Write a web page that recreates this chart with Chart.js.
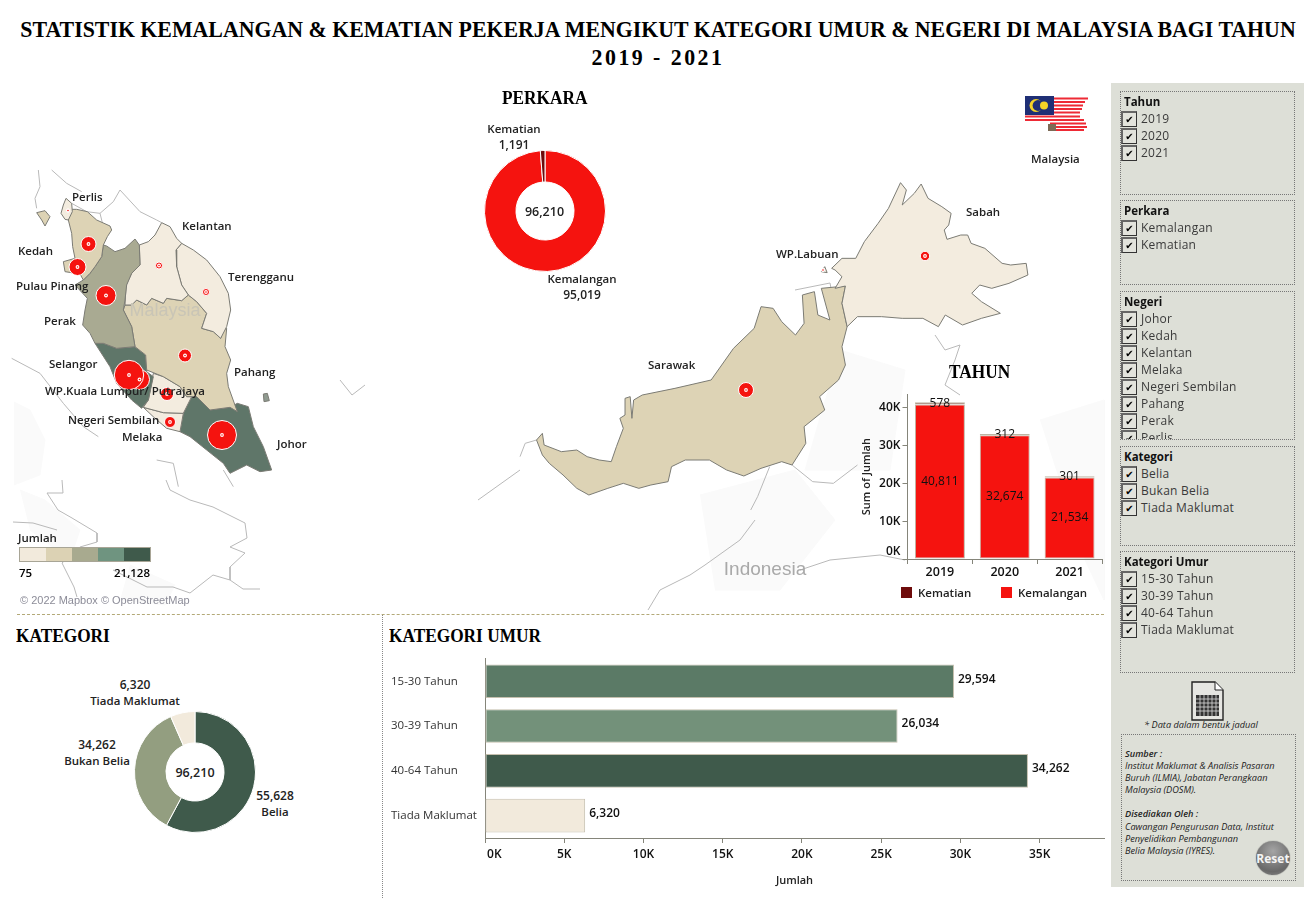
<!DOCTYPE html>
<html><head><meta charset="utf-8">
<script src="https://cdn.jsdelivr.net/npm/chart.js@4/dist/chart.umd.min.js"></script>
<style>
html,body{margin:0;padding:0;background:#fff;width:1316px;height:900px;overflow:hidden;font-family:"Open Sans",sans-serif;color:#111}
.a{position:absolute;white-space:nowrap}
canvas{position:absolute}
.t{font-family:"Liberation Serif",serif;font-weight:700;color:#000;transform-origin:left center;transform:scaleX(.91)}
.tm{font-family:"Liberation Serif",serif;font-weight:700;color:#000;transform:translate(-50%,-50%) scaleX(.95)}
.l{font-weight:600;font-size:11.5px;color:#222;transform:translateY(-50%)}
.box{position:absolute;border:1px dotted #777;box-sizing:border-box;overflow:hidden}
.hd{position:absolute;left:3px;font-weight:700;font-size:11.5px;color:#111;line-height:14px}
.row{position:absolute;left:0;height:17px;width:170px}
.cb{position:absolute;left:0;top:0;width:16px;height:16px;box-sizing:border-box;border:1px solid #333;border-top:2px solid #666;border-left:2px solid #666;font:10px/13px "DejaVu Sans";text-align:center;color:#000;background:#e2e3dc}
.rt{position:absolute;left:20px;top:-1px;font-size:12px;line-height:17px;color:#3a3a3a;letter-spacing:.25px}
.note{font-style:italic;font-size:9.2px;color:#222;line-height:12px}
</style></head><body>
<div class="a tm" style="left:658px;top:30px;font-size:23px">STATISTIK KEMALANGAN &amp; KEMATIAN PEKERJA MENGIKUT KATEGORI UMUR &amp; NEGERI DI MALAYSIA BAGI TAHUN</div>
<div class="a tm" style="left:658px;top:58px;font-size:23px;letter-spacing:2.6px">2019 - 2021</div>

<canvas id="map" width="1110" height="527" style="left:0;top:83px;width:1110px;height:527px"></canvas>
<div class="a" style="left:165px;top:310px;font:18px 'Liberation Sans';color:#c9c5b6;transform:translate(-50%,-50%)">Malaysia</div>
<div class="a" style="left:765px;top:569px;font:19px 'Liberation Sans';color:#a9a9a9;transform:translate(-50%,-50%)">Indonesia</div>
<div id="labels"></div>

<canvas id="perkara" width="122" height="122" style="left:483.5px;top:150px;width:122px;height:122px"></canvas>
<canvas id="tahun" width="250" height="205" style="left:855px;top:385px;width:250px;height:205px"></canvas>
<canvas id="kategori" width="122" height="122" style="left:134px;top:711px;width:122px;height:122px"></canvas>
<canvas id="umur" width="725" height="245" style="left:385px;top:650px;width:725px;height:245px"></canvas>

<div class="a" style="left:17px;top:614px;width:1087px;border-top:1px dashed #b3a978"></div>
<div class="a" style="left:382px;top:615px;height:283px;border-left:1px dotted #888"></div>

<div class="a t" style="left:502px;top:87px;font-size:19px">PERKARA</div>
<div class="a t" style="left:949px;top:361px;font-size:19px">TAHUN</div>
<div class="a t" style="left:16px;top:625px;font-size:19px">KATEGORI</div>
<div class="a t" style="left:389px;top:625px;font-size:19px">KATEGORI UMUR</div>

<div class="a" style="left:19px;top:547px;width:132px;height:15px;display:flex;border:1px solid #a8a596;box-sizing:border-box" id="ramp"></div>
<div class="a l" style="left:18px;top:537px">Jumlah</div>
<div class="a l" style="left:19px;top:572px;color:#000">75</div>
<div class="a l" style="left:150px;top:572px;color:#000;transform:translate(-100%,-50%)">21,128</div>
<div class="a" style="left:20px;top:594px;font:11px/13px 'Liberation Sans';color:#8c8c98">© 2022 Mapbox © OpenStreetMap</div>

<div class="a" style="left:901px;top:587px;width:11px;height:11px;background:#6e0b0b"></div>
<div class="a l" style="left:918px;top:592px">Kematian</div>
<div class="a" style="left:1001px;top:587px;width:11px;height:11px;background:#f5130f"></div>
<div class="a l" style="left:1018px;top:592px">Kemalangan</div>

<svg class="a" style="left:1020px;top:92px" width="74" height="42" viewBox="1020 92 74 42">
 <g stroke-width="2" stroke="#ee2a35" fill="none">
  <path d="M1054 98.5H1088M1054 102H1085M1054 105.5H1083M1054 109H1082M1054 112.5H1080"/>
  <path d="M1025 116.5H1080M1025 120H1084M1050 123.5H1086M1050 127H1087M1056 130H1084"/>
 </g>
 <path d="M1048 124h8v7h-8z" fill="#7d6a55"/>
 <rect x="1025" y="96" width="29" height="19" fill="#1f2f75"/>
 <circle cx="1036" cy="105.5" r="6.5" fill="#f5d327"/><circle cx="1038" cy="105.5" r="5.4" fill="#1f2f75"/>
 <circle cx="1044" cy="105.5" r="4" fill="#f5d327"/>
</svg>

<div class="a" style="left:1111px;top:83px;width:193px;height:804px;background:#dddfd7"></div>
<div id="filters"></div>

<svg class="a" style="left:1190px;top:681px" width="36" height="40" viewBox="0 0 36 40">
 <path d="M2 1h23l8 8v30H2z" fill="#e6e6e2" stroke="#222" stroke-width="1.4"/><path d="M25 1v8h8" fill="#fff" stroke="#222"/>
 <rect x="6" y="14" width="23" height="21" fill="#333"/>
 <path d="M6 18h23M6 22h23M6 26h23M6 30h23M10 14v21M14 14v21M18 14v21M22 14v21M26 14v21" stroke="#ddd" stroke-width=".8"/>
</svg>
<div class="a note" style="left:1201px;top:725px;transform:translate(-50%,-50%)">* Data dalam bentuk jadual</div>
<div class="box" style="left:1121px;top:734px;width:175px;height:147px"></div>
<div class="a note" style="left:1125px;top:748px;line-height:12.1px"><b style="font-weight:600">Sumber :</b><br>Institut Maklumat &amp; Analisis Pasaran<br>Buruh (ILMIA), Jabatan Perangkaan<br>Malaysia (DOSM).<br><br><b style="font-weight:600">Disediakan Oleh :</b><br>Cawangan Pengurusan Data, Institut<br>Penyelidikan Pembangunan<br>Belia Malaysia (IYRES).</div>
<div class="a" style="left:1256px;top:841px;width:34px;height:34px;border-radius:50%;background:radial-gradient(circle at 50% 30%,#a5a5a5,#686868 70%,#8f8f8f);box-shadow:0 0 1px #555"></div>
<div class="a" style="left:1273px;top:858px;font-weight:700;font-size:12px;color:#f4f4f4;transform:translate(-50%,-50%)">Reset</div>

<script>
/* ---------- chart values ---------- */
const perkaraLabels = ['Kemalangan','Kematian'];
const perkaraValues = [95019,1191];
const years = ['2019','2020','2021'];
const kemalanganByYear = [40811,32674,21534];
const kematianByYear = [578,312,301];
const kategoriLabels = ['Belia','Bukan Belia','Tiada Maklumat'];
const kategoriValues = [55628,34262,6320];
const umurLabels = ['15-30 Tahun','30-39 Tahun','40-64 Tahun','Tiada Maklumat'];
const umurValues = [29594,26034,34262,6320];
const umurColors = ['#5b7a66','#73917a','#3f5a4b','#f2eadc'];
const yearTickValues = [0,10000,20000,30000,40000];
const umurTickValues = [0,5000,10000,15000,20000,25000,30000,35000];
const rampColors = ['#f2eadc','#dcd2b4','#a8aa8f','#6f9480','#3f5a4b'];

/* ---------- map outlines, in map units ---------- */
const PEN = p => p.map(([x,y]) => ({x:x/3, y:170+y/3}));
const BOR = p => p.map(([x,y]) => ({x:520+x/2.904, y:180+y/3}));
const PAGE = p => p.map(([x,y]) => ({x, y}));
const C1='#f3ecdf', C2='#ddd3b5', C3='#a9aa92', C4='#5f7669';
const perlis = PEN([[198,85],[215,100],[217,125],[205,150],[195,148],[183,130],[190,105],[198,85]]);
const kedah = PEN([[205,118],[230,118],[262,125],[290,150],[330,168],[335,180],[322,200],[310,225],[305,260],[285,290],[270,310],[250,330],[240,312],[195,305],[190,275],[225,265],[218,230],[215,190],[205,150],[205,118]]);
const langkawi = PEN([[110,128],[135,122],[150,140],[135,168],[125,150],[110,128]]);
const perak = PEN([[320,228],[345,245],[375,235],[405,207],[418,225],[420,285],[395,310],[380,345],[375,390],[370,420],[395,470],[405,530],[350,535],[310,520],[285,520],[270,490],[248,465],[255,420],[262,385],[225,345],[250,330],[270,310],[285,290],[305,260],[310,225],[320,228]]);
const kelantan = PEN([[485,158],[510,170],[530,205],[545,220],[528,240],[530,290],[545,345],[565,375],[545,392],[500,385],[490,400],[455,385],[440,405],[410,390],[395,405],[375,405],[378,345],[395,310],[420,285],[418,225],[445,215],[465,195],[485,158]]);
const terengganu = PEN([[545,220],[580,240],[620,270],[660,320],[685,370],[692,420],[680,470],[662,505],[640,485],[605,475],[620,430],[590,395],[565,375],[545,345],[530,290],[528,240],[545,220]]);
const pahang = PEN([[375,405],[395,405],[410,390],[440,405],[455,385],[490,400],[500,385],[545,392],[565,375],[590,395],[620,430],[605,475],[640,485],[662,505],[668,480],[680,475],[675,530],[692,570],[680,610],[685,650],[712,725],[690,712],[630,720],[590,680],[560,680],[540,650],[490,620],[440,600],[437,555],[405,530],[395,470],[370,420],[375,405]]);
const selangor = PEN([[285,520],[310,520],[350,535],[405,530],[437,555],[440,605],[460,620],[445,690],[425,715],[395,690],[350,640],[330,590],[285,520]]);
const nSembilan = PEN([[460,610],[490,620],[540,650],[560,680],[575,680],[550,730],[490,728],[430,712],[445,690],[460,610]]);
const melaka = PEN([[430,712],[490,728],[550,730],[540,785],[500,775],[465,745],[430,712]]);
const johor = PEN([[575,680],[590,680],[630,720],[690,712],[712,700],[745,710],[760,770],[790,830],[815,900],[780,905],[740,885],[690,910],[670,880],[620,840],[570,800],[540,785],[550,730],[575,680]]);
const tioman = PEN([[790,672],[802,670],[808,692],[792,695],[790,672]]);
const sabah = BOR([[905,265],[935,235],[975,235],[1000,185],[1040,130],[1070,85],[1105,8],[1122,30],[1110,75],[1145,40],[1165,12],[1185,55],[1225,80],[1252,100],[1245,135],[1232,150],[1240,178],[1280,165],[1300,165],[1310,190],[1350,205],[1400,250],[1425,255],[1470,250],[1475,285],[1420,310],[1370,325],[1335,315],[1312,340],[1340,365],[1395,400],[1340,415],[1285,435],[1235,405],[1215,440],[1170,415],[1110,415],[1050,410],[980,410],[950,440],[935,370],[945,318],[915,325],[935,290],[915,270],[905,265]]);
const sarawak = BOR([[48,780],[65,760],[70,795],[120,815],[165,810],[195,830],[230,840],[265,845],[280,800],[300,745],[290,715],[305,705],[305,655],[320,650],[325,715],[330,660],[355,645],[450,625],[555,600],[620,505],[680,445],[700,380],[735,385],[760,425],[800,465],[825,430],[820,345],[855,335],[865,405],[900,420],[875,325],[945,318],[935,370],[950,440],[935,500],[945,555],[925,600],[870,650],[885,690],[825,740],[830,790],[790,855],[760,845],[700,865],[650,888],[600,870],[550,840],[480,840],[440,860],[430,905],[380,915],[345,925],[300,910],[255,925],[200,945],[165,925],[125,885],[85,850],[65,825],[48,780]]);
const labuan = BOR([[875,275],[885,260],[892,278],[875,275]]);
const regions = [[perlis,C1],[kedah,C2],[langkawi,C2],[perak,C3],[kelantan,C1],[terengganu,C1],[pahang,C2],[selangor,C4],[nSembilan,C1],[melaka,C1],[johor,C4],[sabah,C1],[sarawak,C2],[labuan,C1],[tioman,'#8f9a90']];
const terrainPatches = [
 PAGE([[14,402],[30,410],[45,440],[40,475],[14,485]]),
 PAGE([[20,490],[45,500],[80,530],[70,560],[30,530]]),
 PAGE([[130,565],[175,585],[165,605],[120,600]]),
 PAGE([[840,350],[905,370],[890,470],[805,470],[825,400]]),
 PAGE([[700,495],[795,470],[835,520],[780,590],[715,590]]),
 PAGE([[1040,420],[1104,400],[1104,600],[1085,560]])
];
const borderLines = [
 PEN([[215,100],[260,125],[300,130],[340,95],[360,60],[420,125],[470,150],[485,158]]),
 PEN([[115,0],[120,50],[105,85],[110,115]]),
 PEN([[155,0],[200,40],[245,65]]),
 PEN([[300,130],[310,170]]),
 PEN([[35,565],[120,610],[190,700],[250,770],[295,800]]),
 PEN([[470,870],[520,880],[535,950]]),
 PEN([[670,900],[700,950]]),
 PAGE([[62,480],[63,493],[47,493],[58,510],[72,518],[97,533],[97,542],[80,547],[62,563],[74,587],[77,597]]),
 PAGE([[13,522],[33,523],[57,530]]),
 PAGE([[113,570],[147,587],[173,587],[190,593],[213,575],[230,580],[243,589],[260,589]]),
 PAGE([[166,480],[170,490],[190,500],[213,507],[245,523],[247,538],[230,547],[245,553],[230,567],[230,580]]),
 BOR([[790,855],[850,905],[910,910],[980,855]]),
 BOR([[725,860],[690,950],[670,990]]),
 BOR([[48,780],[15,790],[0,830]]),
 PAGE([[648,610],[660,590],[690,575],[705,565],[740,540],[755,520]]),
 PAGE([[800,570],[830,560],[880,555],[905,560]]),
 PAGE([[935,335],[945,350],[960,345],[955,360],[945,385],[960,395]]),
 PAGE([[795,290],[830,283],[835,310]]),
 PAGE([[340,380],[352,395],[365,385]]),
 PAGE([[478,500],[520,470]])
];
const stateBubbles = [
 {x:68,y:210.5,r:1.5},{x:88.5,y:244,r:7.5},{x:77.5,y:267,r:8.5},{x:106,y:295.5,r:10},
 {x:159,y:265.5,r:3.5},{x:206,y:292,r:3.5},{x:185,y:355.5,r:6.5},{x:139.5,y:379.5,r:10},
 {x:129,y:375,r:14.7},{x:167,y:394,r:6.5},{x:170,y:422,r:5.5},{x:222,y:435,r:14.5},
 {x:746,y:390,r:7.5},{x:925,y:256,r:4.7},{x:823,y:270,r:1.2}
];
const mapLabels = [['Perlis',72,196],['Kedah',18,250],['Pulau Pinang',16,285],['Perak',44,320],['Selangor',49,363],['WP.Kuala Lumpur/ Putrajaya',45,390],['Negeri Sembilan',68,419],['Melaka',122,436],['Johor',277,443],['Pahang',234,371],['Terengganu',228,276],['Kelantan',182,225],['Sabah',966,211],['WP.Labuan',776,253],['Sarawak',648,364],['Malaysia',1031,158]];
const filterLists = [
 {title:'Tahun',top:91,h:104,items:years},
 {title:'Perkara',top:200,h:85,items:['Kemalangan','Kematian']},
 {title:'Negeri',top:291,h:149,items:['Johor','Kedah','Kelantan','Melaka','Negeri Sembilan','Pahang','Perak','Perlis']},
 {title:'Kategori',top:446,h:100,items:kategoriLabels},
 {title:'Kategori Umur',top:551,h:122,items:umurLabels}
];

/* ---------- static text ---------- */
const add = (parent,cls,txt,style) => {const d=document.createElement('div');d.className=cls;d.textContent=txt;d.style.cssText=style;parent.appendChild(d);return d;};
const L = document.getElementById('labels');
mapLabels.forEach(([t,x,y]) => add(L,'a l',t,`left:${x}px;top:${y}px`));
[['Kematian',514,128],['1,191',514,144],['Kemalangan',582,278],['95,019',582,294],['96,210',544.5,211,12.5],
 ['6,320',135,684],['Tiada Maklumat',135,700],['34,262',97,744],['Bukan Belia',97,760],['55,628',275,795],['Belia',275,811],['96,210',195,772,12.5]]
 .forEach(([t,x,y,s]) => add(L,'a l',t,`left:${x}px;top:${y}px;transform:translate(-50%,-50%);font-size:${s||(/\d/.test(t)?12:11.5)}px`));
rampColors.forEach(c => {const d=document.createElement('div');d.style.cssText=`flex:1;background:${c}`;document.getElementById('ramp').appendChild(d);});
const F = document.getElementById('filters');
filterLists.forEach(f => {
  const b = add(F,'box','',`left:1120px;top:${f.top}px;width:175px;height:${f.h}px`);
  add(b,'hd',f.title,'top:3px');
  f.items.forEach((t,i) => {
    const r = add(b,'row','',`top:${19+i*17}px`);
    add(r,'cb','✔','');
    add(r,'rt',t,'');
  });
});

/* ---------- charts ---------- */
Chart.defaults.animation = false;
Chart.defaults.responsive = false;
Chart.defaults.font.family = '"Open Sans",sans-serif';
Chart.defaults.plugins.legend.display = false;
Chart.defaults.plugins.tooltip.enabled = false;
const fmt = v => v.toLocaleString('en-US');
const useTicks = vals => s => { s.ticks = vals.map(value => ({value})); };

new Chart('map',{type:'scatter',
 data:{datasets:[
  ...terrainPatches.map(l => ({type:'line',data:l,borderColor:'#fafafa',borderWidth:1,backgroundColor:'#fafafa',pointRadius:0,fill:'shape',tension:0,order:6})),
  ...borderLines.map(l => ({type:'line',data:l,borderColor:'#b9b9b9',borderWidth:1,pointRadius:0,fill:false,tension:0,order:5})),
  ...regions.map(([pts,col]) => ({type:'line',data:pts,borderColor:'#7b7b74',borderWidth:1,backgroundColor:col,pointRadius:0,fill:'shape',tension:0,order:3})),
  {type:'bubble',data:stateBubbles.map(b=>({x:b.x,y:b.y,r:.8})),backgroundColor:'#f5130f',borderWidth:0,order:0},
  {type:'bubble',data:stateBubbles.map(b=>({x:b.x,y:b.y,r:1.9})),backgroundColor:'#ffffff',borderWidth:0,order:1},
  {type:'bubble',data:stateBubbles,backgroundColor:'#f5130f',borderColor:'#ffffff',borderWidth:1,order:2}
 ]},
 options:{layout:{padding:0,autoPadding:false},maintainAspectRatio:false,
  scales:{x:{type:'linear',display:false,min:0,max:1110},y:{type:'linear',display:false,min:83,max:610,reverse:true}}}
});

new Chart('perkara',{type:'doughnut',
 data:{labels:perkaraLabels,datasets:[{data:perkaraValues,backgroundColor:['#f5130f','#6e0b0b'],borderColor:'#fff',borderWidth:1}]},
 options:{cutout:'48%'}});
new Chart('kategori',{type:'doughnut',
 data:{labels:kategoriLabels,datasets:[{data:kategoriValues,backgroundColor:['#3f5a4b','#939e80','#f2eadc'],borderColor:'#fff',borderWidth:1}]},
 options:{cutout:'48%'}});

const barLabels = {id:'barLabels',afterDatasetsDraw(c){
  const ctx=c.ctx;ctx.save();ctx.fillStyle='#111';ctx.textBaseline='middle';
  ctx.font='12px "Open Sans"';
  if(c.canvas.id==='tahun'){
    ctx.textAlign='center';
    c.data.datasets.forEach((ds,di)=>c.getDatasetMeta(di).data.forEach((el,i)=>{
      const p=el.getCenterPoint();
      ctx.fillText(fmt(ds.data[i]),p.x,p.y);
    }));
  } else {
    ctx.textAlign='left';ctx.font='600 12px "Open Sans"';
    c.getDatasetMeta(0).data.forEach((el,i)=>{ctx.fillText(fmt(c.data.datasets[0].data[i]),el.x+4,el.y-2);});
  }
  ctx.restore();
}};

new Chart('tahun',{type:'bar',plugins:[barLabels],
 data:{labels:years,datasets:[
  {label:'Kemalangan',data:kemalanganByYear,backgroundColor:'#f5130f',borderColor:'#bdb5a3',borderWidth:1,borderSkipped:false},
  {label:'Kematian',data:kematianByYear,backgroundColor:'#6e0b0b',borderColor:'#bdb5a3',borderWidth:1,borderSkipped:false}]},
 options:{layout:{padding:{top:7,right:3,left:0,bottom:0},autoPadding:false},
  datasets:{bar:{categoryPercentage:1,barPercentage:.77}},
  scales:{
   x:{stacked:true,afterFit:s=>{s.height=31},
      grid:{offset:true,drawOnChartArea:false,tickLength:5,color:'#85857a'},border:{color:'#85857a'},
      ticks:{color:'#111',font:{size:12.5,weight:'600'},padding:1}},
   y:{stacked:true,min:0,max:43500,afterFit:s=>{s.width=52.5},afterBuildTicks:useTicks(yearTickValues),
      title:{display:true,text:'Sum of Jumlah',color:'#222',font:{size:11,weight:'600'},padding:{top:5,bottom:0}},
      grid:{drawOnChartArea:false,tickLength:5,color:'#85857a'},border:{color:'#85857a'},
      ticks:{color:'#111',font:{size:12,weight:'600'},padding:2,callback:v=>v===0?['0K','']:(v/1000)+'K'}}
  }}});

new Chart('umur',{type:'bar',plugins:[barLabels],
 data:{labels:umurLabels,datasets:[{data:umurValues,backgroundColor:umurColors,borderColor:'#c5bfae',borderWidth:1,borderSkipped:false}]},
 options:{indexAxis:'y',layout:{padding:{top:6,right:6,left:6,bottom:0},autoPadding:false},
  datasets:{bar:{categoryPercentage:1,barPercentage:.75}},
  scales:{
   x:{min:0,max:39060,afterFit:s=>{s.height=57},afterBuildTicks:useTicks(umurTickValues),
      title:{display:true,text:'Jumlah',color:'#222',font:{size:11,weight:'600'},padding:{top:0,bottom:8}},
      grid:{drawOnChartArea:false,tickLength:5,color:'#85857a'},border:{color:'#85857a'},
      ticks:{maxRotation:0,autoSkip:false,color:'#111',font:{size:12,weight:'600'},padding:4,
             callback:v=>v===0?'      0K':(v/1000)+'K'}},
   y:{afterFit:s=>{s.width=94},grid:{display:false},border:{color:'#85857a'},
      ticks:{crossAlign:'far',color:'#333',font:{size:11.5},padding:2}}
  }}});
</script>
</body></html>
